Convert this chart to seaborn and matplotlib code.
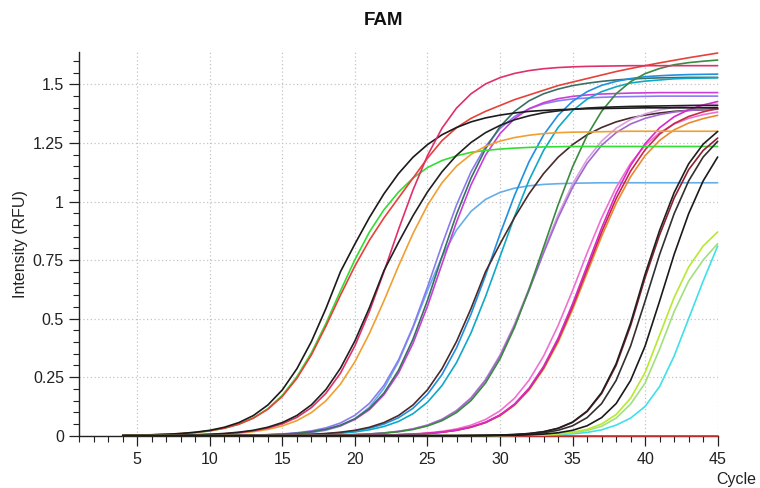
import matplotlib
matplotlib.use("Agg")
import matplotlib.pyplot as plt
from matplotlib.ticker import MultipleLocator, FuncFormatter
import seaborn as sns

# RFU of every well at each cycle from 4 to 45
cycles = list(range(4, 46))

ntc = [0] * 42

a_black = [.0015, .0024, .0038, .006, .0094, .0147, .023, .036, .056, .086, .131, .196, .286, .402,
           .543, .700, .819, .932, 1.033, 1.119, 1.189, 1.243, 1.285, 1.316, 1.340, 1.357, 1.369,
           1.378, 1.385, 1.389, 1.392, 1.394, 1.396, 1.397, 1.398, 1.399] + [1.40] * 6
a_green = [.0014, .0021, .0033, .0053, .0083, .013, .0203, .0317, .0492, .0757, .1153, .1729, .252,
           .354, .479, .618, .752, .870, .965, 1.040, 1.100, 1.145, 1.175, 1.195, 1.210, 1.218,
           1.224, 1.228, 1.231, 1.233, 1.234] + [1.235] * 11
a_red = [.002, .003, .004, .006, .009, .014, .021, .032, .049, .075, .113, .168, .245, .345, .468,
         .600, .725, .835, .93, 1.015, 1.10, 1.185, 1.26, 1.315, 1.355, 1.385, 1.41, 1.435, 1.455,
         1.475, 1.495, 1.51, 1.525, 1.54, 1.555, 1.568, 1.58, 1.592, 1.603, 1.614, 1.624, 1.634]

b_crimson = [.0004, .0006, .0009, .0014, .0022, .0035, .0054, .0084, .0133, .0209, .0325, .0507,
             .0782, .120, .181, .267, .384, .531, .700, .880, 1.049, 1.196, 1.313, 1.399, 1.460,
             1.502, 1.529, 1.547, 1.559, 1.567, 1.572, 1.575, 1.577, 1.578, 1.579] + [1.58] * 7
b_black = [.0004, .0006, .001, .0016, .0024, .0038, .0061, .0094, .0148, .0231, .0362, .0561, .0864,
           .1317, .197, .288, .405, .547, .705, .825, .939, 1.041, 1.127, 1.197, 1.252, 1.294,
           1.325, 1.349, 1.366, 1.379, 1.387, 1.394, 1.399, 1.402, 1.404, 1.406, 1.407, 1.408,
           1.409, 1.41, 1.41, 1.41]
b_orange = [.0003, .0005, .0007, .0012, .0018, .0029, .0044, .0069, .0109, .0172, .0268, .0417,
            .0644, .0987, .149, .220, .316, .437, .576, .724, .863, .984, 1.080, 1.151, 1.201,
            1.236, 1.258, 1.273, 1.283, 1.290, 1.294, 1.296, 1.297, 1.298, 1.299] + [1.30] * 7

c_lightblue = [0] * 4 + [.0001, .0001, .0002, .0004, .0007, .0013, .0023, .004, .0072, .013, .0231,
                         .0409, .0715, .122, .202, .316, .461, .619, .764, .878, .958, 1.009, 1.039,
                         1.057, 1.067, 1.073, 1.076, 1.078, 1.079] + [1.08] * 9
c_magenta = [0] * 4 + [.0002, .0003, .0005, .0008, .0013, .0022, .0037, .006, .0098, .0161, .0264,
                       .0429, .0694, .111, .175, .267, .394, .553, .733, .912, 1.071, 1.198, 1.290,
                       1.354, 1.396, 1.422, 1.439, 1.449, 1.455, 1.459, 1.461, 1.463, 1.464] + [1.465] * 5
c_teal = [0] * 7 + [.0008, .0014, .0023, .0038, .0063, .0103, .0168, .0275, .0448, .0725, .116, .182,
                    .279, .412, .578, .765, .945, 1.10, 1.225, 1.32, 1.385, 1.43, 1.46, 1.48, 1.495,
                    1.505, 1.513, 1.519, 1.523, 1.526, 1.528, 1.529] + [1.53] * 3
c_violet = [0] * 3 + [.0001, .0002, .0004, .0006, .001, .0017, .0028, .0046, .0075, .0125, .0204,
                      .0334, .0541, .0871, .138, .215, .323, .465, .635, .815, .985, 1.127, 1.235,
                      1.312, 1.363, 1.396, 1.417, 1.430, 1.438, 1.442, 1.445, 1.447, 1.448,
                      1.449] + [1.45] * 5

d_blue = [0] * 6 + [.0002, .0003, .0005, .0008, .0014, .0022, .0034, .0053, .0082, .013, .0204, .0318,
                    .0496, .0765, .117, .177, .261, .375, .519, .684, .861, 1.026, 1.170, 1.284, 1.368,
                    1.428, 1.469, 1.496, 1.513, 1.525, 1.533, 1.537, 1.540, 1.542, 1.543, 1.544]
d_cyan = [0] * 6 + [.0002, .0003, .0004, .0007, .0011, .0017, .0026, .0041, .0066, .0103, .0161, .0251,
                    .0393, .0609, .0938, .143, .214, .312, .439, .594, .765, .936, 1.091, 1.218, 1.316,
                    1.388, 1.437, 1.469, 1.490, 1.506, 1.514, 1.519, 1.524, 1.526, 1.527, 1.528]
d_brown = [0] * 8 + [.0008, .001, .0015, .0024, .0038, .006, .0094, .0147, .023, .036, .056, .086, .131,
                     .196, .286, .402, .543, .700, .819, .932, 1.033, 1.119, 1.189, 1.243, 1.285, 1.316,
                     1.340, 1.357, 1.369, 1.378, 1.385, 1.389, 1.392, 1.394]

e_green = [0] * 9 + [.0002, .0003, .0004, .0007, .0011, .0018, .0027, .0043, .0069, .0108, .0169, .0264,
                     .0414, .0641, .0987, .150, .225, .328, .462, .625, .805, .985, 1.148, 1.282, 1.385,
                     1.460, 1.512, 1.546, 1.568, 1.584, 1.593, 1.599, 1.604]
e_purple = [0] * 10 + [.0003, .0005, .0008, .0013, .002, .0031, .0048, .0074, .0118, .0185, .0288, .0449,
                       .0693, .106, .160, .237, .340, .470, .620, .780, .930, 1.060, 1.163, 1.240, 1.294,
                       1.331, 1.355, 1.371, 1.382, 1.389, 1.393, 1.396]
e_lavender = [0] * 10 + [.0003, .0005, .0008, .0013, .002, .0031, .0049, .0075, .012, .0188, .0292,
                         .0455, .0703, .1075, .162, .240, .345, .477, .629, .791, .943, 1.075, 1.180,
                         1.258, 1.313, 1.350, 1.374, 1.391, 1.402, 1.409, 1.413, 1.416]

f_magenta = [0] * 13 + [.0002, .0004, .0006, .001, .0016, .0025, .0039, .0062, .0097, .0152, .0238,
                        .0373, .0577, .0889, .135, .203, .296, .416, .563, .725, .887, 1.034, 1.154,
                        1.247, 1.315, 1.362, 1.392, 1.412, 1.427]
f_pink = [0] * 13 + [.0003, .0005, .0008, .0013, .002, .0031, .0048, .0074, .0118, .0185, .0288, .0449,
                     .0693, .106, .160, .237, .340, .470, .620, .780, .930, 1.060, 1.163, 1.240, 1.294,
                     1.331, 1.355, 1.371, 1.382]
f_red = [0] * 13 + [.0002, .0004, .0006, .001, .0015, .0024, .0039, .0061, .0095, .0149, .0233, .0365,
                    .0565, .087, .133, .199, .290, .408, .551, .710, .869, 1.012, 1.130, 1.221, 1.288,
                    1.333, 1.363, 1.383, 1.397]
f_orange = [0] * 13 + [.0002, .0004, .0006, .001, .0015, .0024, .0038, .006, .0093, .0146, .0228,
                       .0357, .0553, .0852, .130, .195, .284, .399, .539, .695, .851, .991, 1.106,
                       1.196, 1.261, 1.306, 1.335, 1.354, 1.368]

g_black = [0] * 24 + [.0008, .0014, .0026, .005, .0092, .0171, .0317, .0581, .105, .184, .307, .481,
                      .690, .877, 1.038, 1.161, 1.245, 1.299]
g_darkred = [0] * 24 + [.0008, .0014, .0025, .0049, .009, .0167, .031, .0568, .103, .18, .30, .47,
                        .675, .858, 1.015, 1.136, 1.218, 1.271]
g_black2 = [0] * 25 + [.0011, .0019, .0035, .0067, .0124, .023, .0423, .0771, .137, .236, .383, .575,
                       .774, .948, 1.088, 1.190, 1.257]
h_black = [0] * 26 + [.0011, .0019, .0035, .0067, .0124, .023, .0423, .0771, .137, .236, .383, .575,
                      .774, .948, 1.088, 1.190]

i_yellowgreen = [0] * 26 + [.0015, .002, .003, .005, .008, .015, .027, .05, .09, .16, .27, .43, .59,
                            .72, .81, .87]
i_lightgreen = [0] * 26 + [.001, .002, .003, .004, .007, .012, .022, .04, .075, .135, .225, .37, .53,
                           .66, .75, .82]
i_cyan = [0] * 26 + [.001, .0015, .002, .003, .005, .008, .014, .025, .045, .075, .125, .21, .34, .50,
                     .66, .81]

# drawing order and colour of the wells
curves = [ntc, c_lightblue, c_violet, c_magenta, c_teal, d_blue, d_cyan, d_brown,
          e_lavender, e_purple, e_green, f_orange, f_pink, f_red, f_magenta,
          a_green, a_red, a_black, b_orange, b_crimson, b_black,
          i_cyan, i_lightgreen, i_yellowgreen, g_darkred, g_black2, g_black, h_black]
colors = ["#e03030", "#66aee8", "#8a7cf0", "#c840d8", "#3a7064", "#2090e0", "#10a8c8", "#4a2a2a",
          "#d8a0e0", "#a068d0", "#3a8a40", "#e88a30", "#f070d0", "#c82848", "#d828c8",
          "#33dd33", "#e8403a", "#1a1a1a", "#f0a030", "#e0306a", "#202020",
          "#40e0e8", "#a0e080", "#b8e830", "#902030", "#303030", "#202020", "#1a1a1a"]

sns.set_theme(style="white")
plt.rcParams['font.family'] = ['Liberation Sans', 'DejaVu Sans']

fig = plt.figure(figsize=(7.6, 4.88), dpi=100)
ax = fig.add_axes([0.1043, 0.1072, 0.840, 0.787])

for vals, col in zip(curves, colors):
    sns.lineplot(x=cycles, y=vals, color=col, linewidth=1.2, ax=ax,
                 clip_on=False, zorder=3)

ax.set_xlim(1, 45)
ax.set_ylim(0, 1.64)
ax.xaxis.set_major_locator(MultipleLocator(5))
ax.xaxis.set_minor_locator(MultipleLocator(1))
ax.yaxis.set_major_locator(MultipleLocator(0.25))
ax.yaxis.set_minor_locator(MultipleLocator(0.05))
ax.yaxis.set_major_formatter(FuncFormatter(lambda v, p: f"{v:g}"))

ax.grid(True, which='major', linestyle=(0, (1, 2)), color='#c4c4c4', linewidth=0.9)
sns.despine(ax=ax)
for s in ['left', 'bottom']:
    ax.spines[s].set_color('#222222')
    ax.spines[s].set_linewidth(1.0)

ax.tick_params(which='major', direction='out', length=7, width=0.9, colors='#222222',
               labelsize=11.5, pad=4, left=True, bottom=True)
ax.tick_params(which='minor', direction='out', length=4, width=0.8, colors='#222222',
               left=True, bottom=True)
ax.tick_params(axis='x', which='major', pad=5)

ax.set_xlabel("")
ax.set_ylabel("Intensity (RFU)", fontsize=11.5, color='#222222')
ax.yaxis.set_label_coords(-0.080, 0.5)

fig.text(0.505, 0.959, "FAM", ha='center', va='center', fontsize=13.5, fontweight='bold',
         color='#111111')
fig.text(0.942, 0.008, "Cycle", ha='left', va='baseline', fontsize=11.5, color='#222222')

fig.savefig("out.png", dpi=100)
